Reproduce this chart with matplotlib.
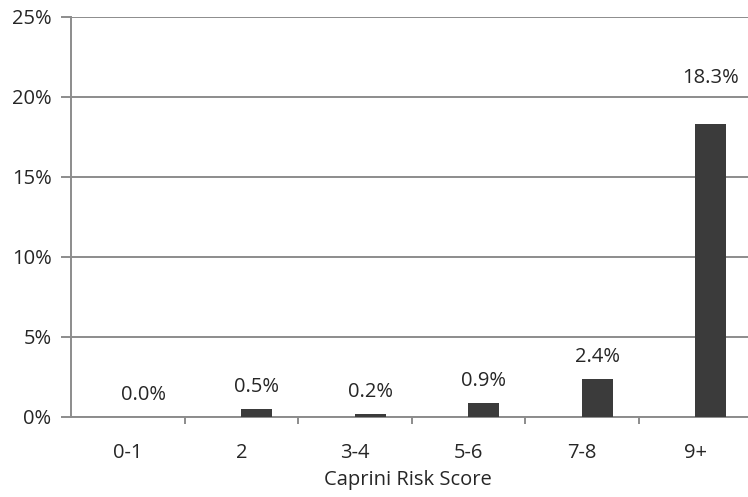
import matplotlib
matplotlib.use("Agg")
import matplotlib.pyplot as plt
import numpy as np

categories = ["0-1", "2", "3-4", "5-6", "7-8", "9+"]
values = [0.0, 0.5, 0.2, 0.9, 2.4, 18.3]
labels = ["0.0%", "0.5%", "0.2%", "0.9%", "2.4%", "18.3%"]
yticks = [0, 5, 10, 15, 20, 25]
ytick_labels = ["0%", "5%", "10%", "15%", "20%", "25%"]

plt.rcParams['font.family'] = ['Open Sans', 'DejaVu Sans']
txt = '#262626'
grid = '#8c8c8c'
fs = 14.5

fig = plt.figure(figsize=(7.48, 4.97), dpi=100)
ax = fig.add_axes([71/748, 80/497, 677/748, 400/497])

x = np.arange(len(categories))
bw = 0.275
ax.bar(x + 0.5, values, width=bw, align='edge', color='#3b3b3b', zorder=3)

for i, (v, lab) in enumerate(zip(values, labels)):
    off = 22 if i < 5 else 46
    ax.annotate(lab, (x[i] + 0.5 + bw/2, v), xytext=(0, off), textcoords='offset pixels',
                ha='center', va='center', fontsize=fs, color=txt)

ax.set_xlim(0, 677/113.5)
ax.set_ylim(0, 25)
ax.set_yticks(yticks)
ax.set_yticklabels(ytick_labels, fontsize=fs, color=txt)
ax.yaxis.grid(True, color=grid, linewidth=1.4, zorder=0)
ax.tick_params(axis='y', length=7, width=1.4, color=grid, pad=7)

ax.set_xticks(x + 0.5)
ax.set_xticklabels(categories, fontsize=fs, color=txt)
ax.set_xticks(np.arange(1, 6), minor=True)
ax.tick_params(axis='x', which='major', length=0, pad=19)
ax.tick_params(axis='x', which='minor', length=5, width=1.4, color=grid)
ax.set_xlabel("Caprini Risk Score", fontsize=fs, color=txt, va='center')
ax.xaxis.set_label_coords((408-71)/677, -63/400)

for s in ['top', 'right']:
    ax.spines[s].set_visible(False)
for s in ['left', 'bottom']:
    ax.spines[s].set_color(grid)
    ax.spines[s].set_linewidth(1.4)

fig.savefig("out.png", dpi=100)
